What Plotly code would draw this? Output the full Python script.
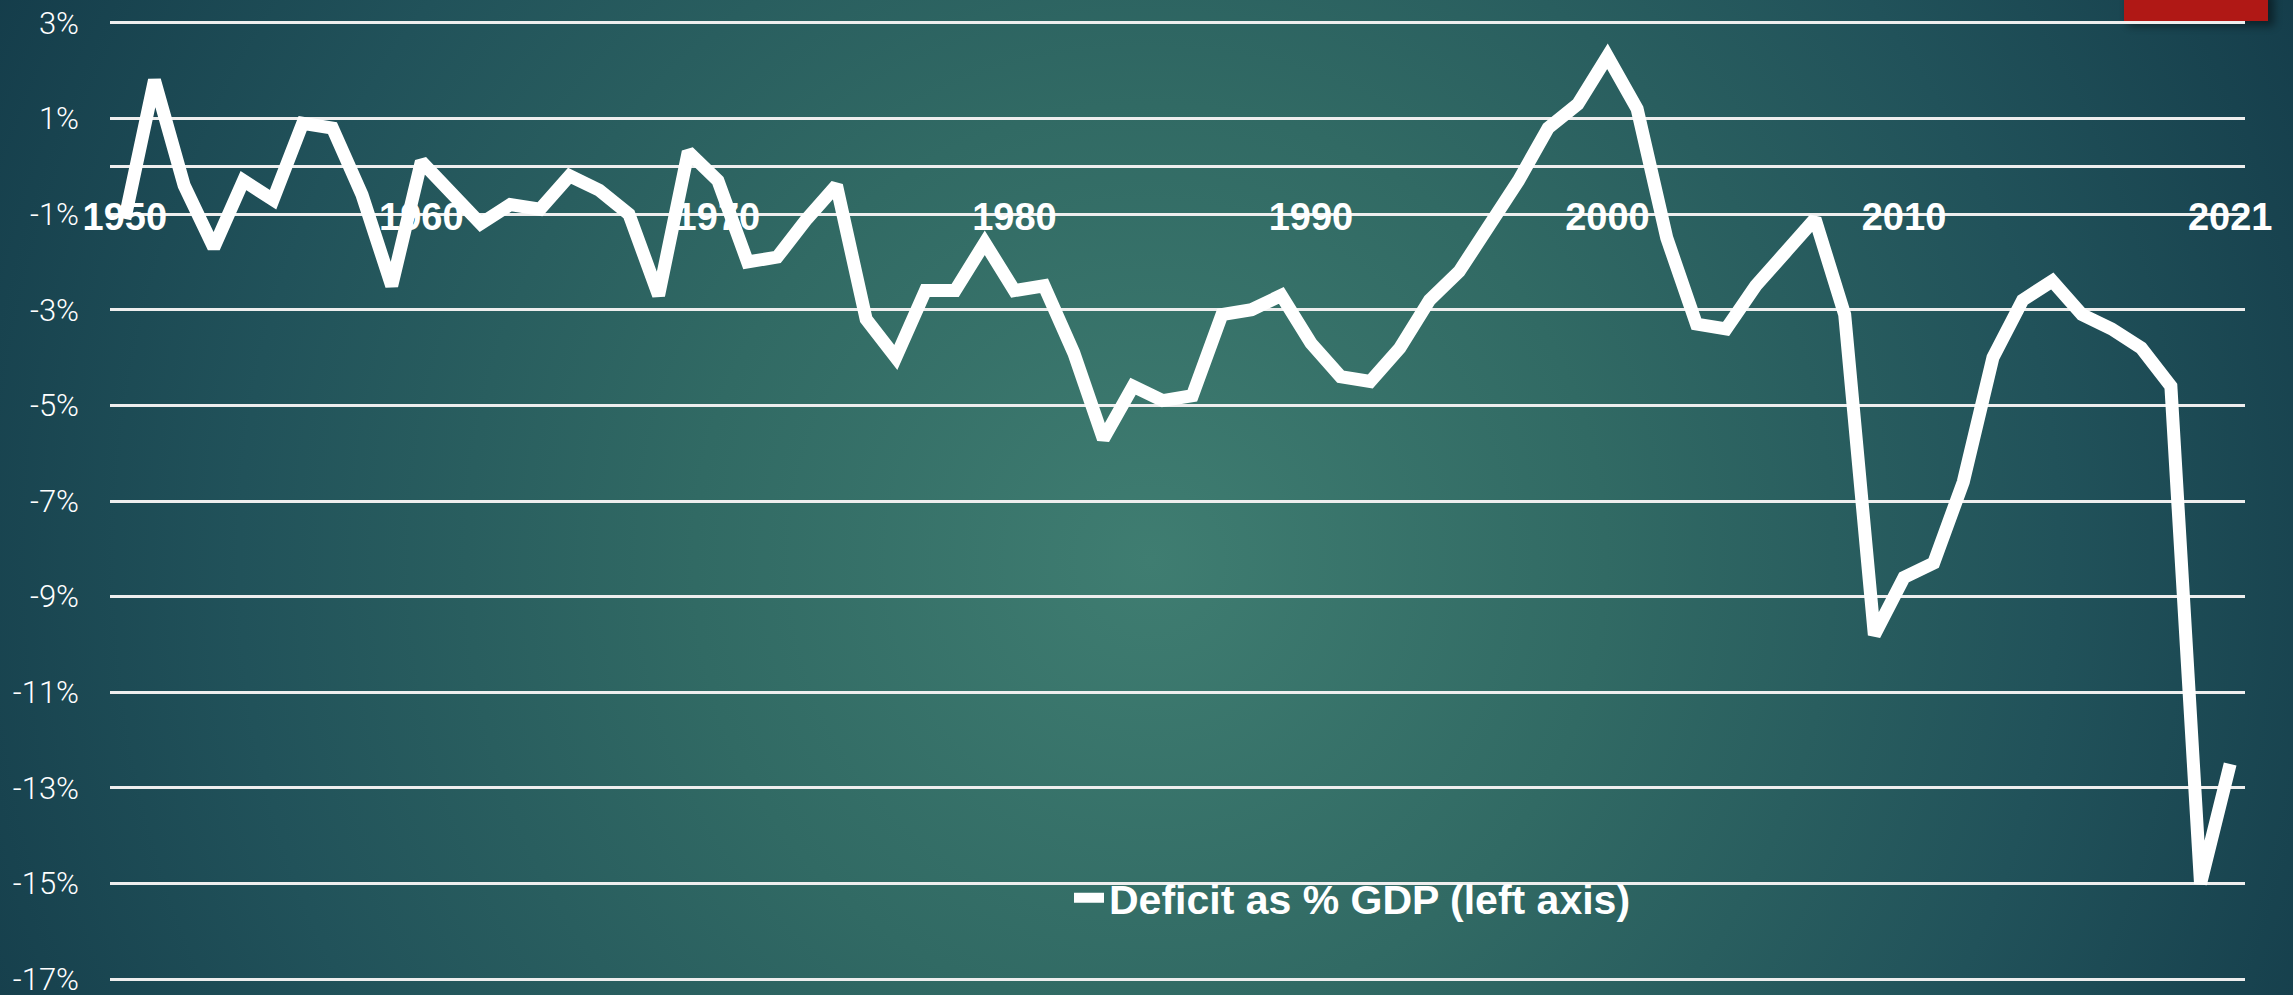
import base64
import plotly.graph_objects as go

# ---------------- data ----------------
years = list(range(1950, 2022))
deficit_pct_gdp = [
    -1.1, 1.8, -0.4, -1.7, -0.3, -0.7, 0.9, 0.8, -0.6, -2.5,     # 1950-1959
    0.1, -0.6, -1.2, -0.8, -0.9, -0.2, -0.5, -1.0, -2.7, 0.3,    # 1960-1969
    -0.3, -2.0, -1.9, -1.1, -0.4, -3.2, -4.0, -2.6, -2.6, -1.6,  # 1970-1979
    -2.6, -2.5, -3.9, -5.7, -4.6, -4.9, -4.8, -3.1, -3.0, -2.7,  # 1980-1989
    -3.7, -4.4, -4.5, -3.8, -2.8, -2.2, -1.3, -0.3, 0.8, 1.3,    # 1990-1999
    2.3, 1.2, -1.5, -3.3, -3.4, -2.5, -1.8, -1.1, -3.1, -9.8,    # 2000-2009
    -8.6, -8.3, -6.6, -4.0, -2.8, -2.4, -3.1, -3.4, -3.8, -4.6,  # 2010-2019
    -15.0, -12.5,                                                # 2020-2021
]
series_name = "Deficit as % GDP (left axis)"
x_tick_vals = [1950, 1960, 1970, 1980, 1990, 2000, 2010, 2021]
x_tick_text = ["1950", "1960", "1970", "1980", "1990", "2000", "2010", "2021"]
y_tick_vals = [3, 1, -1, -3, -5, -7, -9, -11, -13, -15, -17]
y_tick_text = ["3%", "1%", "-1%", "-3%", "-5%", "-7%", "-9%", "-11%", "-13%", "-15%", "-17%"]

# ---------------- geometry ----------------
W, H = 2293, 995
ML, MR, MT, MB = 110, 48, 18, 11
PW, PH = W - ML - MR, H - MT - MB
Y_LO, Y_HI = -17.1, 3.1

# background (slide gradient + red accent block)
svg = (
    f'<svg xmlns="http://www.w3.org/2000/svg" width="{W}" height="{H}" viewBox="0 0 {W} {H}">'
    '<defs><radialGradient id="g" cx="1150" cy="560" r="1300" gradientUnits="userSpaceOnUse">'
    '<stop offset="0" stop-color="#3f7d71"/><stop offset="0.35" stop-color="#316a64"/>'
    '<stop offset="0.7" stop-color="#21525a"/><stop offset="1" stop-color="#143c4a"/>'
    '</radialGradient>'
    '<filter id="s" x="-30%" y="-80%" width="160%" height="300%"><feGaussianBlur stdDeviation="4"/></filter>'
    '</defs>'
    f'<rect width="{W}" height="{H}" fill="url(#g)"/>'
    '<rect x="2128" y="-6" width="146" height="32" fill="#000" opacity="0.45" filter="url(#s)"/>'
    '<rect x="2124" y="0" width="144" height="21" fill="#b01815"/>'
    '</svg>'
)
bg_src = "data:image/svg+xml;base64," + base64.b64encode(svg.encode()).decode()

fig = go.Figure()
fig.add_trace(go.Scatter(
    x=years, y=deficit_pct_gdp, mode="lines", name=series_name,
    line=dict(color="white", width=13), hoverinfo="skip", showlegend=True,
))

grid_col = "#eeeeee"
fig.update_layout(
    template="none",
    width=W, height=H,
    margin=dict(l=ML, r=MR, t=MT, b=MB, pad=0, autoexpand=False),
    paper_bgcolor="#1a4752", plot_bgcolor="rgba(0,0,0,0)",
    images=[dict(
        source=bg_src, xref="paper", yref="paper",
        x=-ML / PW, y=1 + MT / PH, sizex=W / PW, sizey=H / PH,
        xanchor="left", yanchor="top", sizing="stretch", layer="below",
    )],
    xaxis=dict(
        range=[1949.5, 2021.5], tickvals=x_tick_vals, ticktext=x_tick_text,
        anchor="free", position=(0 - Y_LO) / (Y_HI - Y_LO),
        showgrid=False, zeroline=False, showline=False, automargin=False,
        ticks="", ticklabelstandoff=25,
        tickfont=dict(family="Liberation Sans, Arial, sans-serif", size=38, color="white", weight="bold"),
    ),
    yaxis=dict(
        range=[Y_LO, Y_HI], tickvals=y_tick_vals, ticktext=y_tick_text,
        showgrid=True, gridcolor=grid_col, gridwidth=2.5,
        zeroline=True, zerolinecolor=grid_col, zerolinewidth=2.5,
        showline=False, ticks="", ticklabelstandoff=30, automargin=False,
        ticklabeloverflow="allow",
        tickfont=dict(family="Roboto, DejaVu Sans Condensed, sans-serif", size=31, color="white", weight=300),
    ),
    legend=dict(
        x=(1069 - ML) / PW, y=1 - (898 - MT) / PH, xanchor="left", yanchor="middle",
        bgcolor="rgba(0,0,0,0)", borderwidth=0,
        font=dict(family="Liberation Sans, Arial, sans-serif", size=41, color="white", weight="bold"),
    ),
    hovermode=False,
)

fig.write_html("out.html", config={"displayModeBar": False},
               post_script="document.body.style.margin='0';")
